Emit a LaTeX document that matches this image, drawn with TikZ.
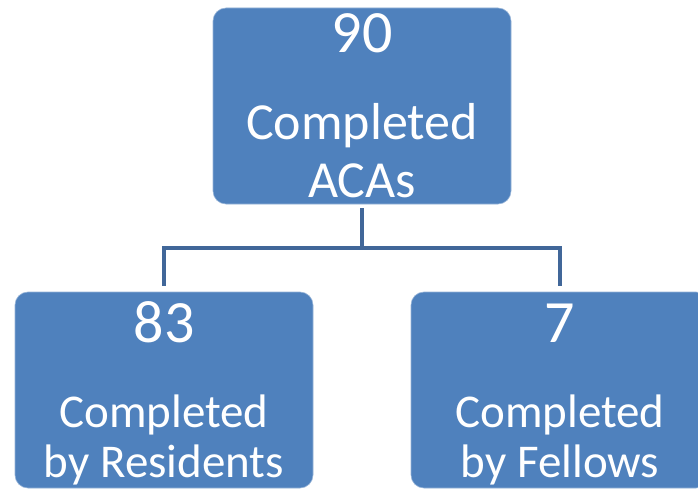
\documentclass[tikz,border=0pt]{standalone}
\usepackage{fontspec}
\setmainfont{Carlito}
\usepackage{tikz}
\usetikzlibrary{positioning}
\definecolor{boxblue}{RGB}{79,129,189}
\definecolor{linkblue}{RGB}{65,103,153}
\tikzset{
  acabox/.style={ rectangle, rounded corners=13pt, fill=boxblue, draw=boxblue!60!white, line width=0.6pt, minimum width=298pt, minimum height=196pt, inner sep=0pt }
}
\tikzset{
  bignum/.style={ anchor=base, text=white, inner sep=0pt, font=\fontsize{60}{60}\selectfont }
}
\tikzset{
  toptxt/.style={ anchor=base, text=white, inner sep=0pt, font=\fontsize{52}{57}\selectfont }
}
\tikzset{
  subtxt/.style={ anchor=base, text=white, inner sep=0pt, font=\fontsize{47}{50}\selectfont }
}
\tikzset{
  link/.style={ draw=linkblue, line width=4.6pt }
}

\begin{document}
\begin{tikzpicture}[x=1pt, y=-1pt]
      \useasboundingbox (0,0) rectangle (698,489);

      \node[acabox] (total) at (362, 106) {};
      \node[bignum] (totalnum) at (362, 53) {90};
      \node[toptxt] (totalA) at (362, 140) {Completed};
      \node[toptxt] (totalB) at (362, 197) {ACAs};

      \node[acabox] (res) at (164, 390) {};
      \node[bignum] (resnum) at (164, 342) {83};
      \node[subtxt] (resA) at (164, 427) {Completed};
      \node[subtxt] (resB) at (164, 477) {by Residents};

      \node[acabox] (fel) at (560, 390) {};
      \node[bignum] (felnum) at (560, 342) {7};
      \node[subtxt] (felA) at (560, 427) {Completed};
      \node[subtxt] (felB) at (560, 477) {by Fellows};

      \coordinate (bar) at (362, 248);

      \begin{scope}[link]
        \draw[shorten <=4pt] (total.south) -- (bar);
        \draw[shorten <=6pt, shorten >=6pt] (res.north) |- (bar) -| (fel.north);
      \end{scope}
    \end{tikzpicture}
\end{document}
